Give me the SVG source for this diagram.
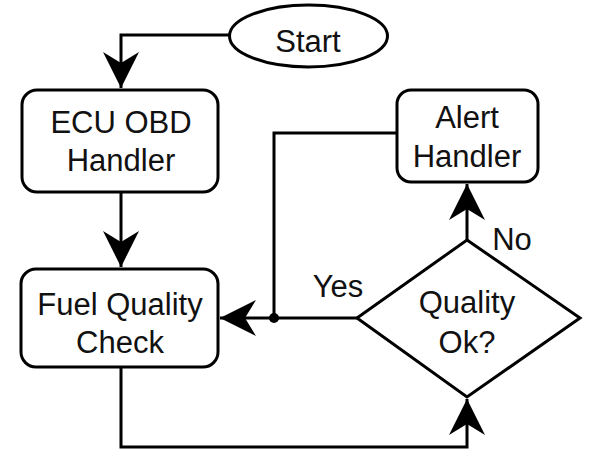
<svg xmlns="http://www.w3.org/2000/svg" width="594" height="462" viewBox="0 0 594 462">
<defs>
<marker id="arr" markerUnits="userSpaceOnUse" markerWidth="40" markerHeight="40" viewBox="-38 -20 40 40" refX="0" refY="0" orient="auto">
<path d="M0,0 L-36,-18 L-25,0 L-36,18 Z" fill="#000"/>
</marker>
<style>
.shape{fill:#fff;stroke:#000;stroke-width:3}
.edge{fill:none;stroke:#000;stroke-width:3}
text{font-family:"Liberation Sans",Arial,sans-serif;font-size:31px;fill:#111;text-anchor:middle}
</style>
</defs>
<rect width="594" height="462" fill="#fff"/>
<g id="connectors">
<path class="edge" d="M229,35 H121 V88" marker-end="url(#arr)"/>
<path class="edge" d="M121,192 V267" marker-end="url(#arr)"/>
<path class="edge" d="M357,318 H220" marker-end="url(#arr)"/>
<path class="edge" d="M396,133 H274 V318"/>
<circle cx="274" cy="318" r="5" fill="#000"/>
<path class="edge" d="M467,240 V184" marker-end="url(#arr)"/>
<path class="edge" d="M121,367 V447 H467 V399" marker-end="url(#arr)"/>
<text x="338" y="297">Yes</text>
<text x="512" y="250">No</text>
</g>
<g id="start">
<ellipse class="shape" cx="308.5" cy="36" rx="79" ry="31"/>
<text x="308" y="52">Start</text>
</g>
<g id="ecu">
<rect class="shape" x="22" y="90" width="196" height="102" rx="15"/>
<text x="121" y="133">ECU OBD</text>
<text x="121" y="171">Handler</text>
</g>
<g id="alert">
<rect class="shape" x="397" y="90" width="141" height="92" rx="14"/>
<text x="467" y="128">Alert</text>
<text x="467" y="167">Handler</text>
</g>
<g id="fuel">
<rect class="shape" x="21" y="269" width="197" height="98" rx="15"/>
<text x="120" y="315">Fuel Quality</text>
<text x="120" y="353">Check</text>
</g>
<g id="quality">
<path class="shape" d="M467,240 L580,318 L467,397 L357,318 Z"/>
<text x="467" y="313">Quality</text>
<text x="467" y="353">Ok?</text>
</g>
</svg>
